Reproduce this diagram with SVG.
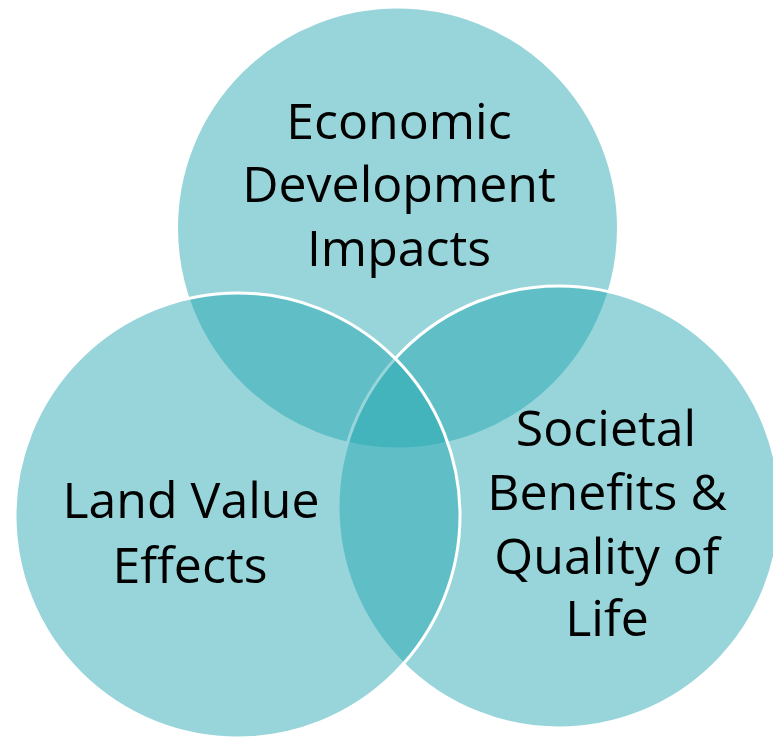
<svg xmlns="http://www.w3.org/2000/svg" width="773" height="739" viewBox="0 0 773 739">
<style>
.c{fill:#22A6B0;fill-opacity:0.47;stroke:#FFFFFF;stroke-width:3}
.t{font-family:"Open Sans","Noto Sans","DejaVu Sans",sans-serif;font-size:50px;fill:#000000;text-anchor:middle}
</style>
<rect width="773" height="739" fill="#FFFFFF"/>
<g id="economic">
<circle class="c" cx="397.5" cy="228" r="221"/>
</g>
<g id="societal">
<circle class="c" cx="559" cy="507" r="221"/>
</g>
<g id="land">
<circle class="c" cx="237.5" cy="515.5" r="222.5"/>
</g>
<g id="labels">
<text class="t" x="399" y="139">Economic</text>
<text class="t" x="399" y="202">Development</text>
<text class="t" x="399" y="266">Impacts</text>
<text class="t" x="191" y="518">Land Value</text>
<text class="t" x="190" y="583">Effects</text>
<text class="t" x="606" y="446">Societal</text>
<text class="t" x="607" y="510">Benefits &amp;</text>
<text class="t" x="607" y="574">Quality of</text>
<text class="t" x="607" y="636">Life</text>
</g>
<g id="connectors"/>
</svg>
